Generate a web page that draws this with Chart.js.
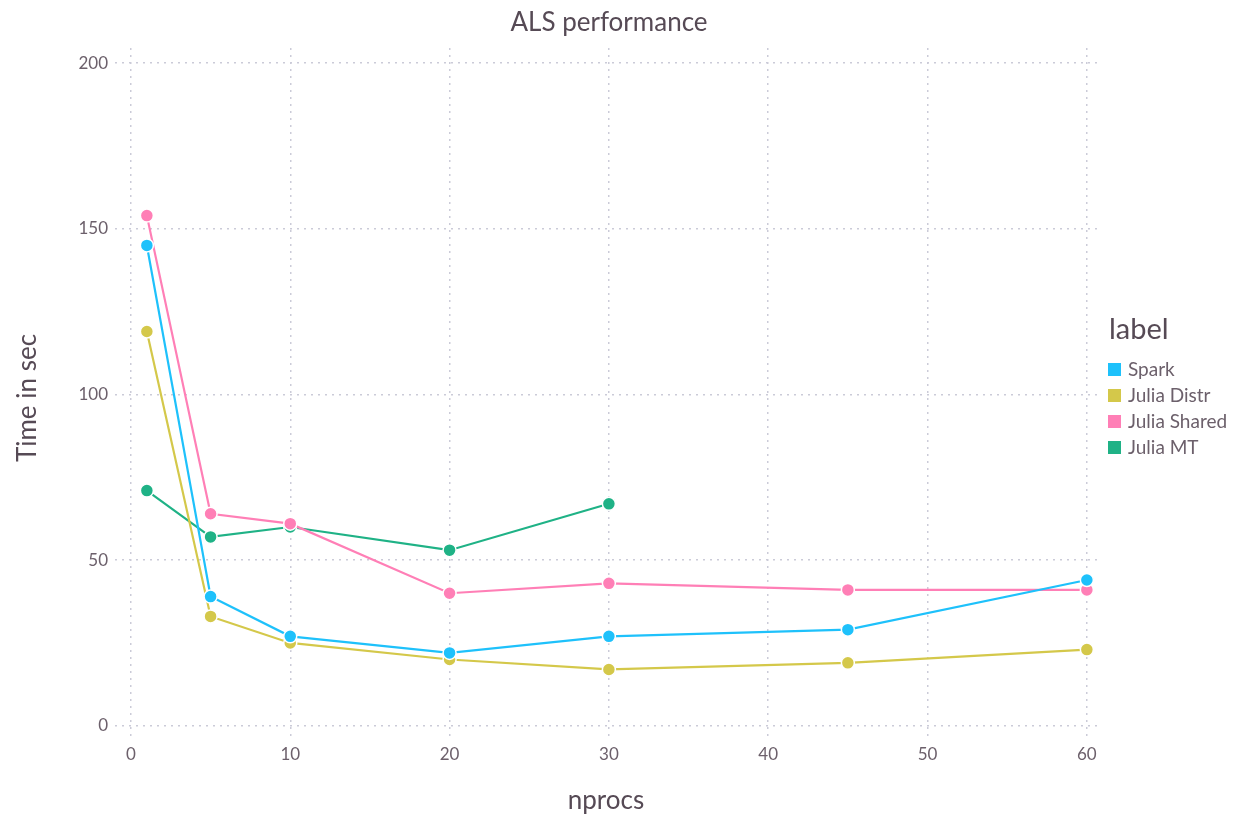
<!DOCTYPE html>
<html><head><meta charset="utf-8">
<script src="https://cdn.jsdelivr.net/npm/chart.js@4/dist/chart.umd.min.js"></script>
<style>html,body{margin:0;padding:0;background:#fff;}#wrap{width:1243px;height:818px;position:relative;}</style>
</head><body><div id="wrap"><canvas id="c" width="1243" height="818"></canvas></div>
<script>
const nprocs = [1, 5, 10, 20, 30, 45, 60];
const nprocsMT = [1, 5, 10, 20, 30];
const spark = [145, 39, 27, 22, 27, 29, 44];
const juliaDistr = [119, 33, 25, 20, 17, 19, 23];
const juliaShared = [154, 64, 61, 40, 43, 41, 41];
const juliaMT = [71, 57, 60, 53, 67];
const seriesLabels = ['Spark', 'Julia Distr', 'Julia Shared', 'Julia MT'];
const seriesColors = ['#1ec1fb', '#d4c84a', '#ff7fb6', '#1fb286'];
const xTicks = [0, 10, 20, 30, 40, 50, 60];
const yTicks = [0, 50, 100, 150, 200];

const FONT = 'Lato, "Open Sans", sans-serif';
const TXT = '#6c606b';
const TXT2 = '#564a55';

function pts(xs, ys){ return xs.map((x,i)=>({x:x, y:ys[i]})); }
const allData = [pts(nprocs, spark), pts(nprocs, juliaDistr), pts(nprocs, juliaShared), pts(nprocsMT, juliaMT)];

const datasets = allData.map((d,i)=>({
  label: seriesLabels[i],
  data: d,
  showLine: true,
  borderColor: seriesColors[i],
  backgroundColor: seriesColors[i],
  borderWidth: 2.2,
  pointRadius: 6.5,
  pointBorderColor: '#ffffff',
  pointBorderWidth: 1.5,
  pointBackgroundColor: seriesColors[i],
  tension: 0
}));

const textPlugin = {
  id: 'texts',
  afterDraw(chart){
    const ctx = chart.ctx;
    ctx.save();
    ctx.fillStyle = TXT2;
    ctx.font = '26px ' + FONT;
    ctx.textAlign = 'center';
    ctx.textBaseline = 'middle';
    ctx.fillText('ALS performance', 609, 23);
    ctx.fillText('nprocs', 606, 801);
    ctx.save();
    ctx.translate(28, 398);
    ctx.rotate(-Math.PI/2);
    ctx.fillText('Time in sec', 0, 0);
    ctx.restore();
    ctx.textAlign = 'left';
    ctx.font = '29px ' + FONT;
    ctx.fillText('label', 1109, 330);
    ctx.font = '19px ' + FONT;
    chart.data.datasets.forEach((ds,i)=>{
      const y = 369 + i*26;
      ctx.fillStyle = ds.borderColor;
      ctx.fillRect(1108, y-6, 13, 13);
      ctx.fillStyle = TXT;
      ctx.fillText(ds.label, 1128, y+1);
    });
    ctx.restore();
  }
};

new Chart(document.getElementById('c'), {
  type: 'scatter',
  data: { datasets: datasets },
  options: {
    responsive: false,
    animation: false,
    devicePixelRatio: 1,
    layout: { padding: { top: 48, right: 145, left: 0, bottom: 0 } },
    plugins: { legend: { display: false }, tooltip: { enabled: false }, title: { display: false } },
    scales: {
      x: {
        type: 'linear', min: -1, max: 60.7,
        afterBuildTicks: s => { s.ticks = xTicks.map(v=>({value:v})); },
        afterFit: s => { s.height = 78; },
        grid: { color: '#cbcbd8', lineWidth: 1.5, drawTicks: false },
        border: { display: false, dash: [2, 5] },
        ticks: { padding: 4, color: TXT, font: { family: FONT, size: 17 } }
      },
      y: {
        type: 'linear', min: -4.3, max: 204.6,
        afterBuildTicks: s => { s.ticks = yTicks.map(v=>({value:v})); },
        afterFit: s => { s.width = 115; },
        grid: { color: '#cbcbd8', lineWidth: 1.5, drawTicks: false },
        border: { display: false, dash: [2, 5] },
        ticks: { padding: 7, color: TXT, font: { family: FONT, size: 17 } }
      }
    }
  },
  plugins: [textPlugin]
});
</script>
</body></html>
